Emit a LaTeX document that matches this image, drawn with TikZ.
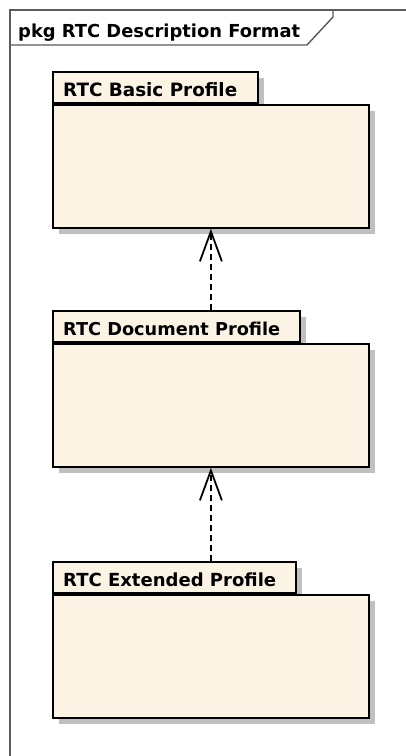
\documentclass[tikz,border=0pt]{standalone}
\usepackage{fontspec}
\usepackage{graphicx}
\newfontfamily\umlfont{DejaVu Sans}
\usetikzlibrary{arrows.meta,shadows}
\definecolor{pkgfill}{RGB}{251,243,228}
\definecolor{shadowgray}{RGB}{192,192,192}
\definecolor{framegray}{RGB}{90,90,90}
\newcommand{\fitw}[2]{\resizebox{#1}{!}{\umlfont\bfseries #2}}
\tikzset{
  pkgshape/.style={draw=black, line width=1.8pt, fill=pkgfill, inner sep=0pt,
    drop shadow={shadow xshift=6pt, shadow yshift=-6pt, fill=shadowgray, opacity=1}},
  pkgbody/.style={pkgshape, minimum width=316pt, minimum height=123pt, anchor=north west},
  pkgtab/.style={pkgshape, minimum height=31pt, anchor=south west},
  lbl/.style={inner sep=0pt, anchor=base west},
  depend/.style={line width=1.8pt, dash pattern=on 6pt off 4pt,
    -{Straight Barb[length=30pt, width=22pt, line width=1.8pt]}}
}
\begin{document}
\begin{tikzpicture}[x=1pt,y=-1pt]
\useasboundingbox (0,0) rectangle (406,756);
\fill[white] (0,0) rectangle (406,756);
% frame
\draw[framegray, line width=1.4pt] (10,760) -- (10,10) -- (410,10);
\draw[framegray, line width=1.4pt] (10,45) -- (307,45) -- (333,17) -- (333,10);
\node[lbl] (title) at (18,37) {\fitw{282pt}{pkg RTC Description Format}};
% Basic
\node[pkgtab, minimum width=205pt] (basictab) at (52,104) {};
\node[pkgbody] (basic) at (52,104) {};
\node[lbl] (basiclbl) at (63,96) {\fitw{174pt}{RTC Basic Profile}};
% Document
\node[pkgtab, minimum width=247pt] (doctab) at (52,343) {};
\node[pkgbody] (doc) at (52,343) {};
\node[lbl] (doclbl) at (63,335) {\fitw{217pt}{RTC Document Profile}};
% Extended
\node[pkgtab, minimum width=243pt] (exttab) at (52,594) {};
\node[pkgbody] (ext) at (52,594) {};
\node[lbl] (extlbl) at (63,586) {\fitw{213pt}{RTC Extended Profile}};
% dependencies
\draw[depend] (doctab.north west -| basic.south) -- (basic.south);
\draw[depend] (exttab.north west -| doc.south) -- (doc.south);
\end{tikzpicture}
\end{document}
